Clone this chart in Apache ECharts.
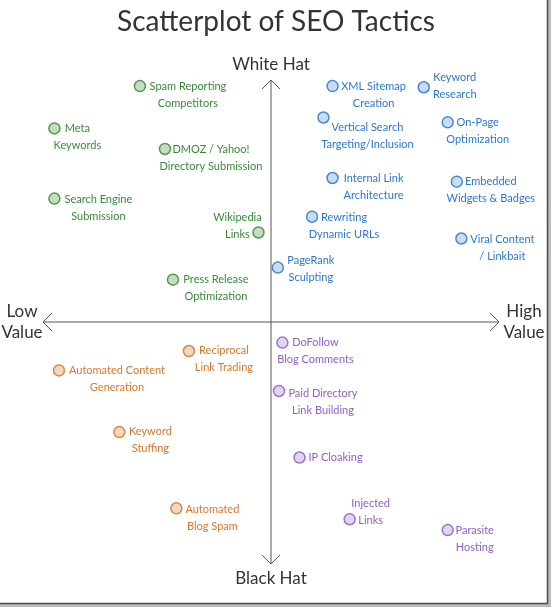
<!DOCTYPE html>
<html>
<head>
<meta charset="utf-8">
<script src="https://cdn.jsdelivr.net/npm/echarts@6/dist/echarts.min.js"></script>
<style>
  html, body { margin: 0; padding: 0; background: #fff; }
  #main { width: 552px; height: 608px; }
</style>
</head>
<body>
<div id="main"></div>
<script>
// white hat / low value
const greenNames = ['Spam Reporting\nCompetitors', 'Meta\nKeywords', 'DMOZ / Yahoo!\nDirectory Submission',
  'Search Engine\nSubmission', 'Wikipedia\nLinks', 'Press Release\nOptimization'];
const greenX = [-5.75, -9.5, -4.65, -9.5, -0.55, -4.3];
const greenY = [9.75, 8.0, 7.15, 5.1, 3.7, 1.75];

// white hat / high value
const blueNames = ['XML Sitemap\nCreation', 'Keyword\nResearch', 'Vertical Search\nTargeting/Inclusion',
  'On-Page\nOptimization', 'Internal Link\nArchitecture', 'Embedded\nWidgets & Badges',
  'Rewriting\nDynamic URLs', 'Viral Content\n/ Linkbait', 'PageRank\nSculpting'];
const blueX = [2.7, 6.7, 2.3, 7.75, 2.7, 8.15, 1.8, 8.35, 0.3];
const blueY = [9.75, 9.7, 8.45, 8.25, 5.95, 5.8, 4.35, 3.45, 2.25];

// black hat / low value
const orangeNames = ['Reciprocal\nLink Trading', 'Automated Content\nGeneration', 'Keyword\nStuffing', 'Automated\nBlog Spam'];
const orangeX = [-3.6, -9.3, -6.65, -4.15];
const orangeY = [-1.2, -2.0, -4.55, -7.7];

// black hat / high value
const purpleNames = ['DoFollow\nBlog Comments', 'Paid Directory\nLink Building', 'IP Cloaking', 'Injected\nLinks', 'Parasite\nHosting'];
const purpleX = [0.5, 0.35, 1.25, 3.45, 7.75];
const purpleY = [-0.85, -2.85, -5.6, -8.15, -8.6];

// label placement (px, centre of text block relative to the dot)
const greenOffsets = [[48, 8.5], [23, 8.5], [46, 9], [44, 9], [-21, -7], [43, 8.5]];
const blueOffsets = [[41, 9], [31, -1.5], [44, 18], [30, 8.5], [41, 9], [34, 8.5], [32, 9.5], [41, 9.5], [33, 1.5]];
const orangeOffsets = [[35, 8], [58, 9], [31, 8], [36, 9.5]];
const purpleOffsets = [[33, 8.5], [44, 11], [36, 0], [21, -7.5], [27, 9]];

const chart = echarts.init(document.getElementById('main'));

function makeSeries(names, xs, ys, offsets, text, fill, stroke) {
  return {
    type: 'scatter',
    symbol: 'circle',
    symbolSize: 11,
    itemStyle: { color: fill, borderColor: stroke, borderWidth: 1.5, opacity: 1 },
    label: {
      show: true,
      position: 'inside',
      align: 'center',
      verticalAlign: 'middle',
      color: text,
      fontFamily: 'Lato',
      fontSize: 11,
      lineHeight: 17,
      formatter: p => p.name
    },
    emphasis: { disabled: true },
    data: names.map((n, i) => ({
      name: n,
      value: [xs[i], ys[i]],
      label: { offset: offsets[i] }
    }))
  };
}

chart.setOption({
  animation: false,
  title: {
    text: 'Scatterplot of SEO Tactics',
    left: 'center',
    top: 3,
    textStyle: { fontFamily: 'Lato', fontSize: 28, fontWeight: 'normal', color: '#333' }
  },
  grid: { left: 43, right: 53, top: 80, bottom: 44 },
  xAxis: { type: 'value', min: -10, max: 10, show: false },
  yAxis: { type: 'value', min: -10, max: 10, show: false },
  series: [
    makeSeries(greenNames, greenX, greenY, greenOffsets, '#3a8a3a', '#c6dcc2', '#4f9a4f'),
    makeSeries(blueNames, blueX, blueY, blueOffsets, '#2b78d2', '#c9dcf2', '#4a88d6'),
    makeSeries(orangeNames, orangeX, orangeY, orangeOffsets, '#d8782c', '#f4d8be', '#dc8646'),
    makeSeries(purpleNames, purpleX, purpleY, purpleOffsets, '#915fcf', '#e0d4f1', '#9a74d4')
  ]
});

// cross axes with open arrow heads, and the four axis captions
const L = chart.convertToPixel('grid', [-10, 0]);
const R = chart.convertToPixel('grid', [10, 0]);
const T = chart.convertToPixel('grid', [0, 10]);
const B = chart.convertToPixel('grid', [0, -10]);
const ax = { stroke: '#555', lineWidth: 1 };
const a = 9;
const cap = { fontFamily: 'Lato', fontSize: 17, fill: '#333', align: 'center', verticalAlign: 'middle', lineHeight: 21 };

chart.setOption({
  graphic: [
    { type: 'line', shape: { x1: L[0], y1: L[1], x2: R[0], y2: R[1] }, style: ax },
    { type: 'line', shape: { x1: T[0], y1: T[1], x2: B[0], y2: B[1] }, style: ax },
    { type: 'polyline', shape: { points: [[L[0] + a, L[1] - a], L, [L[0] + a, L[1] + a]] }, style: ax },
    { type: 'polyline', shape: { points: [[R[0] - a, R[1] - a], R, [R[0] - a, R[1] + a]] }, style: ax },
    { type: 'polyline', shape: { points: [[T[0] - a, T[1] + a], T, [T[0] + a, T[1] + a]] }, style: ax },
    { type: 'polyline', shape: { points: [[B[0] - a, B[1] - a], B, [B[0] + a, B[1] - a]] }, style: ax },
    { type: 'text', x: T[0], y: T[1] - 15, style: Object.assign({ text: 'White Hat' }, cap) },
    { type: 'text', x: B[0], y: B[1] + 15, style: Object.assign({ text: 'Black Hat' }, cap) },
    { type: 'text', x: L[0] - 21, y: L[1], style: Object.assign({ text: 'Low\nValue' }, cap) },
    { type: 'text', x: R[0] + 25, y: R[1], style: Object.assign({ text: 'High\nValue' }, cap) },
    // frame edge with shadow
    { type: 'polyline', shape: { points: [[549.5, 0], [549.5, 605.5], [0, 605.5]] }, style: { stroke: '#bbb', lineWidth: 3 } },
    { type: 'polyline', shape: { points: [[547.5, 0], [547.5, 603.5], [0, 603.5]] }, style: { stroke: '#4a4a4a', lineWidth: 1.5 } }
  ]
});
</script>
</body>
</html>
